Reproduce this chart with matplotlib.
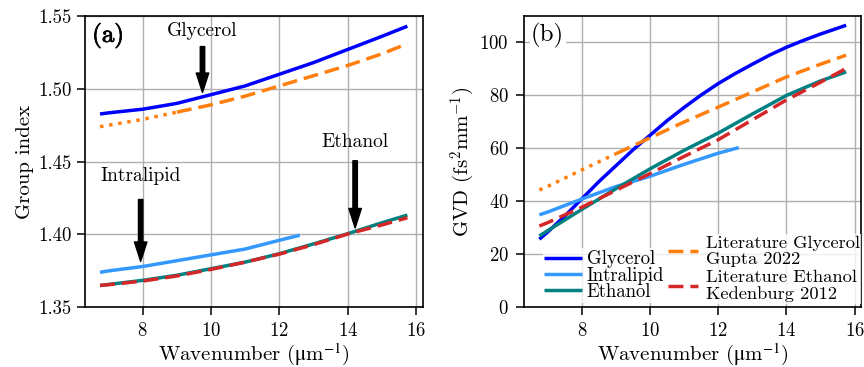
import matplotlib
matplotlib.use("Agg")
import matplotlib.pyplot as plt
import matplotlib.patheffects as pe

plt.rcParams['font.family'] = ['cmr10', 'DejaVu Serif']
plt.rcParams['mathtext.fontset'] = 'cm'
plt.rcParams['axes.formatter.use_mathtext'] = True
plt.rcParams['font.size'] = 13.5
plt.rcParams['axes.labelsize'] = 15
plt.rcParams['xtick.labelsize'] = 13.5
plt.rcParams['ytick.labelsize'] = 13.5
plt.rcParams['xtick.major.size'] = 5.5
plt.rcParams['ytick.major.size'] = 5.5
plt.rcParams['xtick.major.width'] = 1.1
plt.rcParams['ytick.major.width'] = 1.1
plt.rcParams['xtick.major.pad'] = 4.8
plt.rcParams['ytick.major.pad'] = 4.0

# ---- data ----
k = [6.75, 7, 8, 9, 10, 11, 12, 13, 14, 15, 15.75]
k_fine = [6.75, 7, 7.5, 8, 8.5, 9, 9.5, 10, 10.5, 11, 11.5, 12, 12.5, 13, 13.5, 14, 14.5, 15, 15.75]
k_intra = [6.75, 7, 8, 9, 10, 11, 12, 12.6]
gupta_valid_from = 9.0

ng_gly = [1.4827, 1.4835, 1.486, 1.490, 1.496, 1.502, 1.510, 1.518, 1.527, 1.536, 1.543]
ng_gupta = [1.474, 1.475, 1.479, 1.484, 1.489, 1.495, 1.502, 1.509, 1.516, 1.524, 1.531]
ng_intra = [1.374, 1.375, 1.378, 1.382, 1.386, 1.390, 1.396, 1.3995]
ng_eth = [1.365, 1.3657, 1.3685, 1.372, 1.3765, 1.381, 1.3868, 1.3935, 1.4005, 1.408, 1.4133]
ng_ked = [1.365, 1.3655, 1.368, 1.3715, 1.376, 1.381, 1.3865, 1.393, 1.4003, 1.4065, 1.4115]

gvd_gly = [25.7, 28.5, 34.5, 41.0, 47.5, 53.5, 59.5, 65.0, 70.5, 75.5, 80.2, 84.5,
           88.3, 91.8, 95.2, 98.2, 100.8, 103.2, 106.5]
gvd_gupta = [44.3, 45.7, 51.9, 58.0, 64.0, 70.0, 75.6, 81.3, 87.0, 91.8, 95.2]
gvd_intra = [34.9, 36.0, 40.9, 45.6, 49.5, 54.0, 58.2, 60.3]
gvd_eth = [26.9, 29.0, 37.0, 44.8, 52.3, 59.3, 65.8, 73.0, 80.0, 85.5, 88.9]
gvd_ked = [30.7, 32.0, 37.8, 44.2, 50.5, 57.0, 63.3, 70.8, 78.3, 85.0, 90.2]

labels = ['Glycerol', 'Intralipid', 'Ethanol',
          'Literature Glycerol\nGupta 2022', 'Literature Ethanol\nKedenburg 2012']
c_gly, c_intra, c_eth, c_gupta, c_ked = '#0000ff', '#3399ff', '#008080', '#ff7f0e', '#d62728'

# annotations (text, text xy, arrow tail, arrow tip) for panel (a)
ann_text = ['Glycerol', 'Intralipid', 'Ethanol']
ann_xy = [(9.73, 1.540), (7.94, 1.440), (14.22, 1.4637)]
ann_tail = [(9.75, 1.529), (7.94, 1.424), (14.22, 1.4506)]
ann_tip = [(9.75, 1.4975), (7.94, 1.3815), (14.22, 1.4045)]

LW = 2.5
DASH = (4.3, 2.0)

fig = plt.figure(figsize=(8.64, 3.67), dpi=100)
ax1 = fig.add_axes([0.098, 0.1627, 0.3913, 0.7937])
ax2 = fig.add_axes([0.6065, 0.1627, 0.3906, 0.7937])


def split(xs, ys, x0):
    a = [(x, y) for x, y in zip(xs, ys) if x <= x0]
    b = [(x, y) for x, y in zip(xs, ys) if x >= x0]
    return [p[0] for p in a], [p[1] for p in a], [p[0] for p in b], [p[1] for p in b]


def draw(ax, kg, gly, gupta, intra, eth, ked):
    h1, = ax.plot(kg, gly, color=c_gly, lw=LW, solid_capstyle='butt')
    h2, = ax.plot(k_intra, intra, color=c_intra, lw=LW, solid_capstyle='butt')
    h3, = ax.plot(k, eth, color=c_eth, lw=LW, solid_capstyle='butt')
    xa, ya, xb, yb = split(k, gupta, gupta_valid_from)
    ax.plot(xa, ya, color=c_gupta, lw=LW, linestyle=(0, (1, 1.65)))
    h4, = ax.plot(xb, yb, color=c_gupta, lw=LW, linestyle=(0, DASH))
    h5, = ax.plot(k, ked, color=c_ked, lw=LW, linestyle=(0, DASH))
    return [h1, h2, h3, h4, h5]


draw(ax1, k, ng_gly, ng_gupta, ng_intra, ng_eth, ng_ked)
handles = draw(ax2, k_fine, gvd_gly, gvd_gupta, gvd_intra, gvd_eth, gvd_ked)

for ax in (ax1, ax2):
    ax.grid(True, color='#b0b0b0', lw=1.0)
    ax.set_axisbelow(True)
    ax.set_xticks([8, 10, 12, 14, 16])
    ax.set_xlim(6.3, 16.2)
    ax.set_xlabel(r'Wavenumber ($\mathrm{\mu}$m$^{-1}$)', labelpad=1,
                  math_fontfamily='stix')
    for s in ax.spines.values():
        s.set_linewidth(1.2)

ax1.set_ylim(1.35, 1.55)
ax1.set_yticks([1.35, 1.40, 1.45, 1.50, 1.55])
ax1.set_yticklabels(['1.35', '1.40', '1.45', '1.50', '1.55'])
ax1.set_ylabel('Group index', labelpad=3)

ax2.set_ylim(0, 110)
ax2.set_yticks([0, 20, 40, 60, 80, 100])
ax2.tick_params(axis='y', pad=5.5)
ax2.set_ylabel('GVD (fs$^2$mm$^{-1}$)', labelpad=2)

for t, xy, tail, tip in zip(ann_text, ann_xy, ann_tail, ann_tip):
    ax1.text(xy[0], xy[1], t, ha='center', va='center', fontsize=14)
    ax1.annotate('', xy=tip, xytext=tail,
                 arrowprops=dict(facecolor='black', edgecolor='black', width=3.2,
                                 headwidth=9, headlength=14, shrink=0))

ax1.text(0.022, 0.975, '(a)', transform=ax1.transAxes, ha='left', va='top',
         fontsize=18, bbox=dict(facecolor='white', edgecolor='none', pad=1),
         path_effects=[pe.withStroke(linewidth=0.6, foreground='black')])
ax2.text(0.021, 0.975, '(b)', transform=ax2.transAxes, ha='left', va='top',
         fontsize=18, bbox=dict(facecolor='white', edgecolor='none', pad=1))

leg_kw = dict(borderaxespad=0.0, borderpad=0.1, framealpha=0.8,
              edgecolor='none', fancybox=False)
leg1 = ax2.legend(handles[:3], labels[:3], loc='lower left', fontsize=13.5,
                  bbox_to_anchor=(0.055, 0.015), labelspacing=-0.08,
                  handlelength=2.0, handletextpad=0.25, **leg_kw)
ax2.add_artist(leg1)
leg1.set_zorder(6)
leg2 = ax2.legend(handles[3:], labels[3:], loc='lower right', fontsize=13.3,
                  bbox_to_anchor=(1.0, 0.012), labelspacing=0.15,
                  handlelength=1.65, handletextpad=0.4, **leg_kw)
for t in leg2.get_texts():
    t.set_linespacing(1.05)

fig.savefig('out.png', dpi=100)
